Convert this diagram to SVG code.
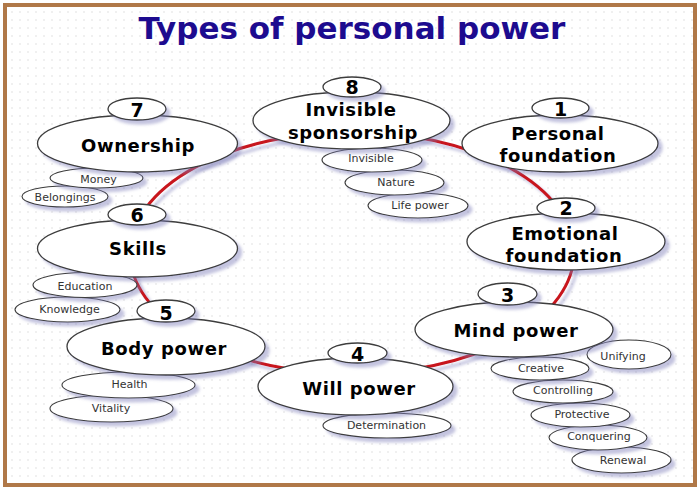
<svg xmlns="http://www.w3.org/2000/svg" width="700" height="490" viewBox="0 0 700 490">
<defs>
<pattern id="dots" width="8" height="8" patternUnits="userSpaceOnUse">
<circle cx="4" cy="4" r="0.7" fill="#d6d6d6"/>
</pattern>
<filter id="sh" x="-20%" y="-40%" width="140%" height="180%">
<feDropShadow dx="4" dy="4" stdDeviation="1.6" flood-color="#7a7ab8" flood-opacity="0.45"/>
</filter>
<style>
.e{fill:#fff;stroke:#3c3c3c;stroke-width:1.3;filter:url(#sh)}
.s{fill:#fff;stroke:#3c3c3c;stroke-width:1.1;filter:url(#sh)}
.tm{font-family:'DejaVu Sans',Verdana,sans-serif;font-weight:bold;font-size:18px;text-anchor:middle;letter-spacing:0.6px;fill:#000}
.tn{font-family:'DejaVu Sans',Verdana,sans-serif;font-weight:bold;font-size:19px;text-anchor:middle;fill:#000}
.ts{font-family:'DejaVu Sans',Verdana,sans-serif;font-size:11px;text-anchor:middle;fill:#333}
.title{font-family:'DejaVu Sans',Verdana,sans-serif;font-weight:bold;font-size:31px;text-anchor:middle;fill:#1d0b8f}
.link{fill:none;stroke:#c8141e;stroke-width:3;filter:url(#sh)}
</style>
</defs>
<rect x="0" y="0" width="700" height="490" fill="#fff"/>
<rect x="5" y="5" width="690" height="480" fill="url(#dots)" stroke="#b07848" stroke-width="4"/>
<text class="title" x="352" y="39">Types of personal power</text>

<g id="connectors">
<ellipse class="link" cx="352" cy="253" rx="222" ry="121"/>
</g>

<g id="node7">
<ellipse class="s" cx="65" cy="196.5" rx="43" ry="10.5"/>
<text class="ts" x="65" y="201">Belongings</text>
<ellipse class="s" cx="96.5" cy="178" rx="46.5" ry="10"/>
<text class="ts" x="98.5" y="183">Money</text>
<ellipse class="e" cx="137.5" cy="143.5" rx="100" ry="28.5"/>
<text class="tm" x="138" y="152">Ownership</text>
<ellipse class="e" cx="137" cy="109" rx="29" ry="11"/>
<text class="tn" x="137" y="117">7</text>
</g>

<g id="node6">
<ellipse class="s" cx="67.5" cy="309.5" rx="52.5" ry="12.5"/>
<text class="ts" x="69.5" y="313">Knowledge</text>
<ellipse class="s" cx="85" cy="285" rx="52" ry="12.5"/>
<text class="ts" x="85" y="290">Education</text>
<ellipse class="e" cx="137.5" cy="248.5" rx="100" ry="28.5"/>
<text class="tm" x="138" y="255">Skills</text>
<ellipse class="e" cx="137" cy="214.5" rx="29" ry="10.5"/>
<text class="tn" x="137" y="222">6</text>
</g>

<g id="node5">
<ellipse class="s" cx="111.5" cy="408.5" rx="61.5" ry="13.5"/>
<text class="ts" x="111" y="412">Vitality</text>
<ellipse class="s" cx="128.5" cy="385" rx="66.5" ry="13"/>
<text class="ts" x="129.5" y="388">Health</text>
<ellipse class="e" cx="166" cy="346.5" rx="99" ry="28.5"/>
<text class="tm" x="164" y="355">Body power</text>
<ellipse class="e" cx="166" cy="311" rx="29" ry="11"/>
<text class="tn" x="166" y="320">5</text>
</g>

<g id="node4">
<ellipse class="s" cx="387" cy="425.5" rx="64" ry="12.5"/>
<text class="ts" x="386.5" y="429">Determination</text>
<ellipse class="e" cx="355.5" cy="386.5" rx="97.5" ry="28.5"/>
<text class="tm" x="359" y="395">Will power</text>
<ellipse class="e" cx="357.5" cy="353" rx="29.5" ry="10"/>
<text class="tn" x="357.5" y="361">4</text>
</g>

<g id="node3">
<ellipse class="s" cx="621.5" cy="460" rx="49.5" ry="13"/>
<text class="ts" x="623" y="464">Renewal</text>
<ellipse class="s" cx="598" cy="437.5" rx="49" ry="12.5"/>
<text class="ts" x="599" y="440">Conquering</text>
<ellipse class="s" cx="580.5" cy="415" rx="49.5" ry="12"/>
<text class="ts" x="582" y="418">Protective</text>
<ellipse class="s" cx="563" cy="391.5" rx="50" ry="11.5"/>
<text class="ts" x="563" y="394">Controlling</text>
<ellipse class="s" cx="629" cy="354.5" rx="42" ry="14.5"/>
<text class="ts" x="623" y="360">Unifying</text>
<ellipse class="s" cx="540" cy="368.5" rx="49" ry="11.5"/>
<text class="ts" x="541" y="372">Creative</text>
<ellipse class="e" cx="514" cy="329.5" rx="99" ry="27.5"/>
<text class="tm" x="516" y="337">Mind power</text>
<ellipse class="e" cx="507.5" cy="294" rx="29.5" ry="11"/>
<text class="tn" x="507.5" y="302">3</text>
</g>

<g id="node2">
<ellipse class="e" cx="566" cy="241.5" rx="99" ry="28.5"/>
<text class="tm" x="565" y="240">Emotional</text>
<text class="tm" x="564" y="262">foundation</text>
<ellipse class="e" cx="566" cy="208" rx="29" ry="10"/>
<text class="tn" x="566" y="215">2</text>
</g>

<g id="node1">
<ellipse class="e" cx="560" cy="143.5" rx="98" ry="28.5"/>
<text class="tm" x="558" y="140">Personal</text>
<text class="tm" x="558" y="162">foundation</text>
<ellipse class="e" cx="560.5" cy="108" rx="28.5" ry="10"/>
<text class="tn" x="560.5" y="116">1</text>
</g>

<g id="node8">
<ellipse class="s" cx="418" cy="205.5" rx="50" ry="12.5"/>
<text class="ts" x="420" y="209">Life power</text>
<ellipse class="s" cx="394.5" cy="182.5" rx="49.5" ry="12.5"/>
<text class="ts" x="396" y="186">Nature</text>
<ellipse class="s" cx="372" cy="160" rx="50" ry="12"/>
<text class="ts" x="371" y="162">Invisible</text>
<ellipse class="e" cx="351.5" cy="120.5" rx="98.5" ry="28.5"/>
<text class="tm" x="351" y="116">Invisible</text>
<text class="tm" x="353" y="139">sponsorship</text>
<ellipse class="e" cx="352" cy="87" rx="29" ry="10"/>
<text class="tn" x="352" y="94">8</text>
</g>
</svg>
